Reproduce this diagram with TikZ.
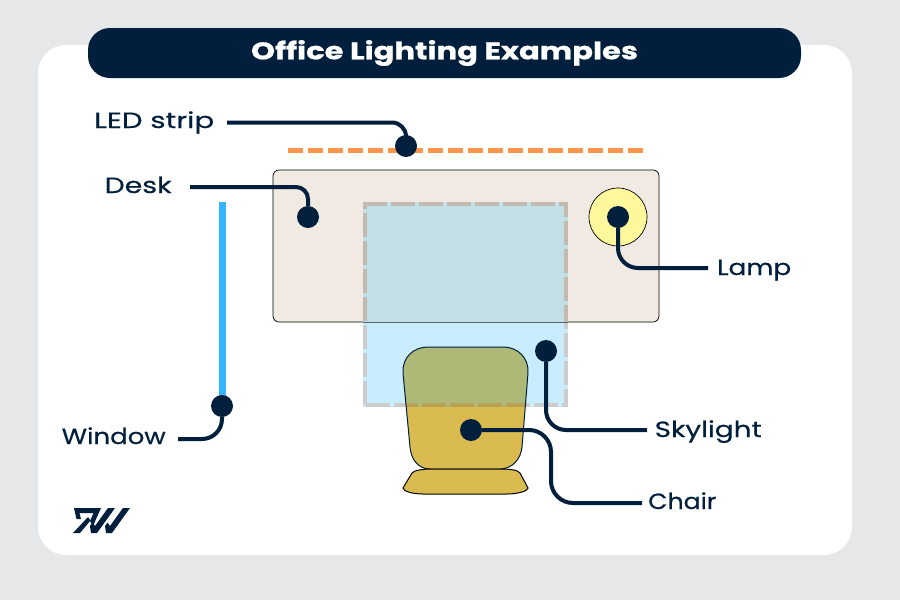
\documentclass[tikz,border=0pt]{standalone}
\usepackage{fontspec}
\setmainfont{Poppins}
\definecolor{navy}{HTML}{001F3D}
\definecolor{pagebg}{HTML}{E6E7E9}
\definecolor{deskc}{HTML}{F1EAE3}
\definecolor{skyc}{HTML}{C9EDFF}
\definecolor{skydesk}{HTML}{C2DFE6}
\definecolor{chairc}{HTML}{D9BB50}
\definecolor{chairsky}{HTML}{AEB877}
\definecolor{orangec}{HTML}{FF954A}
\definecolor{windowc}{HTML}{33B5FF}
\definecolor{lampc}{HTML}{FDF89B}
\definecolor{dashwhite}{HTML}{CCCCCC}
\definecolor{dashdesk}{HTML}{C2B9B0}
\definecolor{dashchair}{HTML}{B7A256}
\tikzset{
  x=1pt,y=-1pt,
  leader/.style={draw=navy,line width=4pt,rounded corners=20pt},
  dotn/.style={circle,fill=navy,minimum size=22pt,inner sep=0pt},
  lbl/.style={text=navy,font=\fontsize{22}{24}\selectfont\addfontfeature{FakeBold=0.4},inner sep=0pt,anchor=base west},
}
\newcommand{\fitw}[2]{\resizebox{#1pt}{\height}{#2}}
\newcommand{\chairtop}{(403,373) .. controls (402,358) and (413,347) .. (428,347) -- (503,347) .. controls (518,347) and (529,358) .. (528,373) -- (522,447) .. controls (521,459) and (512,469) .. (500,469) -- (430,469) .. controls (418,469) and (411,459) .. (410,447) -- cycle}
\newcommand{\skydashes}{%
  \draw[line width=4pt,dash pattern=on 24pt off 4pt] (363,203.7) -- (568,203.7);
  \draw[line width=4pt,dash pattern=on 24pt off 4pt,dash phase=16.7pt] (365,201.7) -- (365,406.7);
  \draw[line width=4pt,dash pattern=on 24pt off 4pt,dash phase=9pt] (566,201.7) -- (566,406.7);
  \draw[line width=4pt,dash pattern=on 24pt off 4pt] (366,404.7) -- (568,404.7);
}
\begin{document}
\begin{tikzpicture}
\useasboundingbox (0,0) rectangle (900,600);
\fill[pagebg] (0,0) rectangle (900,600);
\fill[white,rounded corners=28pt] (38,45) rectangle (852,555);
\node[fill=navy,rounded corners=22pt,minimum width=713pt,minimum height=50pt,inner sep=0pt,text=white,font=\fontsize{24}{26}\selectfont\bfseries\addfontfeature{FakeBold=0.8}] (title) at (444.5,53) {\raisebox{-1.5pt}{\fitw{387}{Office Lighting Examples}}};
% desk
\draw[fill=deskc,draw=black,line width=0.7pt,rounded corners=6pt] (273,170) rectangle (659,322);
% skylight
\fill[skyc] (363,201.7) rectangle (568,406.7);
\fill[skydesk] (363,201.7) rectangle (568,322);
\begin{scope}[draw=dashwhite]
\clip (300,322) rectangle (600,420);
\skydashes
\end{scope}
\begin{scope}[draw=dashdesk]
\clip (300,190) rectangle (600,322);
\skydashes
\end{scope}
\draw[draw=black!55!skydesk,line width=0.7pt] (363,322) -- (568,322);
% chair
\fill[chairc] \chairtop;
\begin{scope}
\clip (363,201.7) rectangle (568,406.7);
\fill[chairsky] \chairtop;
\end{scope}
\begin{scope}[draw=dashchair]
\clip \chairtop;
\skydashes
\end{scope}
\draw[navy,line width=1pt] \chairtop;
\draw[fill=chairc,draw=black,line width=1pt] (412,473) .. controls (414,470) and (425,469) .. (430,469) -- (500,469) .. controls (510,469) and (518,470) .. (520,473) -- (528,488) .. controls (528,491) and (518,494) .. (507,494) -- (423,494) .. controls (412,494) and (403,491) .. (403,488) -- cycle;
% window and strip
\draw[windowc,line width=7pt] (222,202) -- (222,406);
\draw[orangec,line width=5pt,dash pattern=on 15pt off 5pt] (288,150) -- (643,150);
% lamp
\draw[fill=lampc,draw=black,line width=0.7pt] (618,217) circle (29);
% dots
\node[dotn] (dLed) at (406,146) {};
\node[dotn] (dDesk) at (308,217) {};
\node[dotn] (dLamp) at (618,217) {};
\node[dotn] (dSky) at (546,351) {};
\node[dotn] (dChair) at (471,430) {};
\node[dotn] (dWin) at (222,406) {};
% labels
\node[lbl] (lLed) at (94,128) {\fitw{120}{LED strip}};
\node[lbl] (lDesk) at (104.5,193) {\fitw{67}{Desk}};
\node[lbl] (lLamp) at (717,275) {\fitw{74}{Lamp}};
\node[lbl] (lSky) at (654.5,437) {\fitw{107}{Skylight}};
\node[lbl] (lChair) at (648,509) {\fitw{68}{Chair}};
\node[lbl] (lWin) at (61.5,444) {\fitw{104}{Window}};
% free ends
\coordinate (eLed) at (227,122.5);
\coordinate (eDesk) at (190,187);
\coordinate (eLamp) at (708,268);
\coordinate (eSky) at (647,430);
\coordinate (eChair) at (642,503);
\coordinate (eWin) at (178,439);
% leaders
\draw[leader,rounded corners=14pt] (eLed) -- (eLed -| dLed) -- (dLed);
\draw[leader,rounded corners=12pt] (eDesk) -- (eDesk -| dDesk) -- (dDesk);
\draw[leader] (dLamp) -- (dLamp |- eLamp) -- (eLamp);
\draw[leader] (dSky) -- (dSky |- eSky) -- (eSky);
\draw[leader,rounded corners=22pt] (dChair) -- (551,430) -- (551,503) -- (eChair);
\draw[leader] (dWin) -- (dWin |- eWin) -- (eWin);
% logo
\fill[navy] (74,508) -- (101,508) -- (93,526) -- (90,521) -- (93.5,513) -- (79.5,513) -- (81,519) -- (76.5,519) -- cycle;
\fill[navy] (73,533) -- (88,517) -- (90.5,520.5) -- (80,533) -- cycle;
\fill[navy] (91,533) -- (97,533) -- (115,508) -- (108,508) -- (95,526) -- (92.5,522.5) -- (90,526) -- cycle;
\fill[navy] (106,533) -- (112,533) -- (130,508) -- (123,508) -- (110,526) -- (107.5,522.5) -- (105,526) -- cycle;
\end{tikzpicture}
\end{document}
